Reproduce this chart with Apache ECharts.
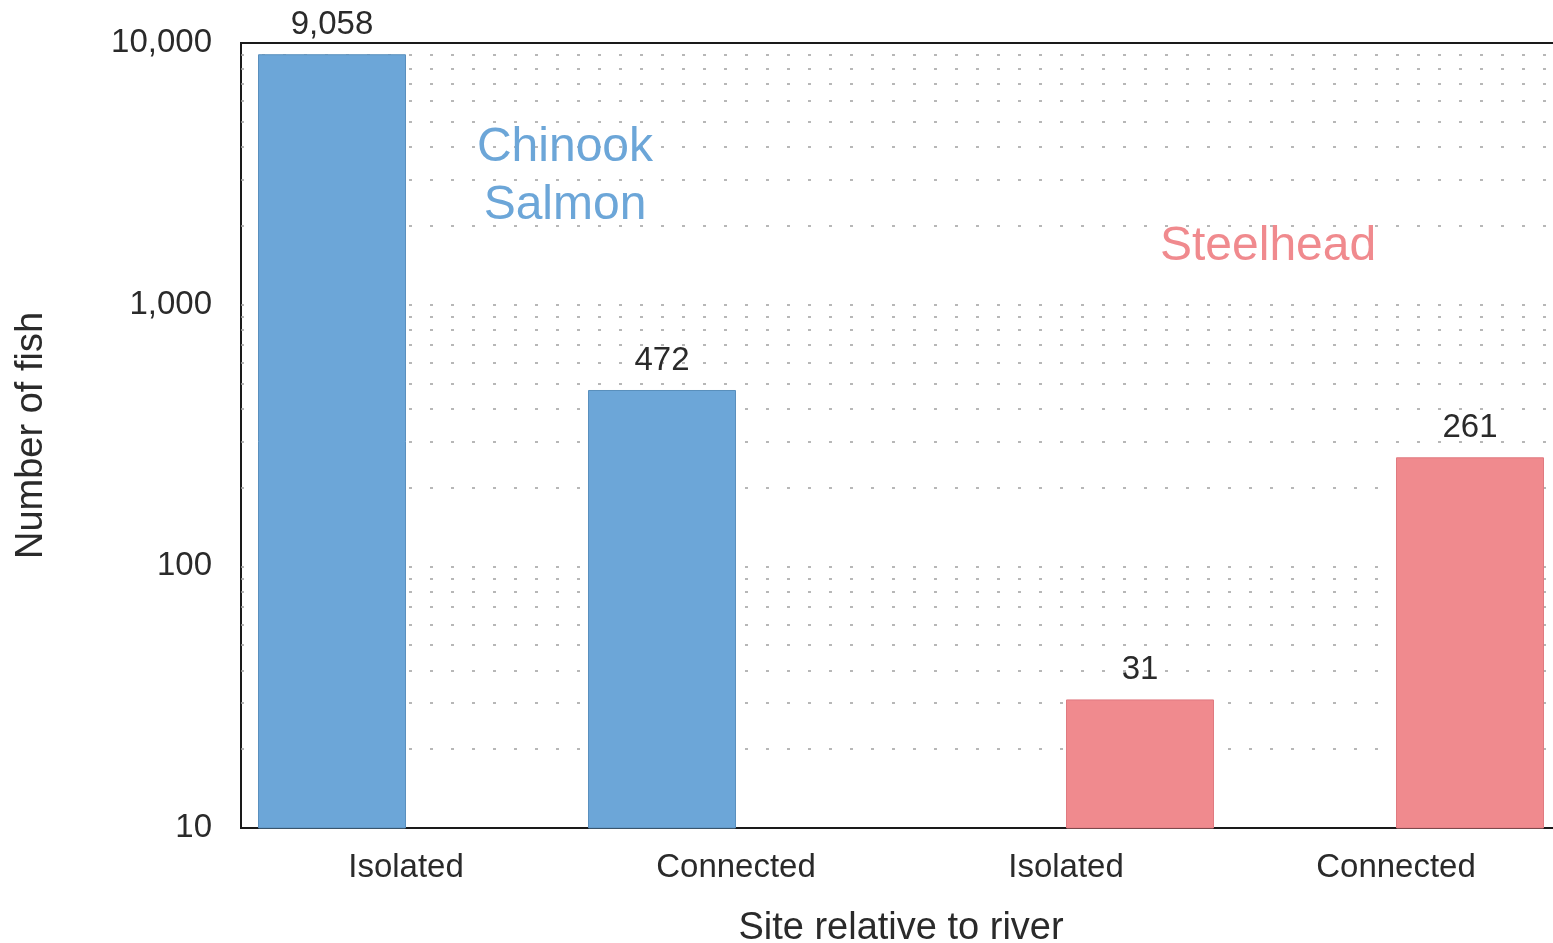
<!DOCTYPE html>
<html>
<head>
<meta charset="utf-8">
<title>Number of fish</title>
<script src="https://cdn.jsdelivr.net/npm/echarts@6/dist/echarts.min.js"></script>
<style>
  html, body {margin: 0; padding: 0; background: #fff;}
  #chart {width: 1553px; height: 943px;}
</style>
</head>
<body>
<div id="chart"></div>
<script>
// data
var sites = ['Isolated', 'Connected', 'Isolated', 'Connected'];
var chinook = [9058, 472, '-', '-'];
var steelhead = ['-', '-', 31, 261];
var yTicks = [10, 100, 1000, 10000];
// dotted guide lines (log minor steps)
var guideLines = [20, 30, 40, 50, 60, 70, 80, 90, 100,
  200, 300, 400, 500, 600, 700, 800, 900, 1000,
  2000, 3000, 4000, 5000, 6000, 7000, 8000, 9000];

var chart = echarts.init(document.getElementById('chart'));

var font = '"Liberation Sans", Arial, sans-serif';
var blue = '#6ca6d8', red = '#f08a8e';

var option = {
  animation: false,
  textStyle: {fontFamily: font},
  grid: {
    left: 241, top: 43, bottom: 115, width: 1320,
    outerBoundsMode: 'none',
    containLabel: false,
    show: true, borderColor: '#1a1a1a', borderWidth: 2
  },
  xAxis: {
    type: 'category',
    data: sites,
    axisLine: {lineStyle: {color: '#1a1a1a', width: 2}},
    axisTick: {show: false},
    axisLabel: {color: '#2a2a2a', fontSize: 33, margin: 23},
    name: 'Site relative to river',
    nameLocation: 'middle',
    nameGap: 82,
    nameTextStyle: {color: '#2a2a2a', fontSize: 38}
  },
  yAxis: {
    type: 'log',
    logBase: 10,
    min: 10,
    max: 10000,
    axisLine: {show: true, lineStyle: {color: '#1a1a1a', width: 2}},
    axisTick: {show: false},
    splitLine: {show: false},
    axisLabel: {
      color: '#2a2a2a', fontSize: 33, margin: 29,
      formatter: function (v) {
        var r = Math.round(v);
        return yTicks.indexOf(r) >= 0 ? r.toLocaleString('en-US') : '';
      }
    },
    name: 'Number of fish',
    nameLocation: 'middle',
    nameGap: 190,
    nameTextStyle: {color: '#2a2a2a', fontSize: 38}
  },
  graphic: [
    {type: 'text', left: 565 - 90, top: 119, z: 10,
      style: {text: 'Chinook\nSalmon', fill: blue, font: '48px ' + font, textAlign: 'center', lineHeight: 58, width: 180}},
    {type: 'text', left: 1160, top: 223, z: 10,
      style: {text: 'Steelhead', fill: red, font: '48px ' + font}}
  ],
  series: [
    {
      name: 'guides',
      type: 'line',
      data: [],
      silent: true,
      z: 1,
      markLine: {
        silent: true,
        symbol: 'none',
        z: 1,
        label: {show: false},
        lineStyle: {color: '#a0a0a0', width: 1.5, type: [3, 18]},
        data: guideLines.map(function (v) { return {yAxis: v}; })
      }
    },
    {
      name: 'Chinook Salmon',
      type: 'bar',
      z: 3,
      data: chinook,
      barWidth: 148,
      barGap: '0%',
      itemStyle: {color: blue, borderColor: '#5a8fbd', borderWidth: 1},
      label: {show: true, position: 'top', distance: 13, color: '#2a2a2a', fontSize: 33,
        formatter: function (p) { return p.value.toLocaleString('en-US'); }}
    },
    {
      name: 'Steelhead',
      type: 'bar',
      z: 3,
      data: steelhead,
      barWidth: 148,
      barGap: '0%',
      itemStyle: {color: red, borderColor: '#e07a80', borderWidth: 1},
      label: {show: true, position: 'top', distance: 13, color: '#2a2a2a', fontSize: 33,
        formatter: function (p) { return p.value.toLocaleString('en-US'); }}
    }
  ]
};

chart.setOption(option);
window.onresize = chart.resize;
</script>
</body>
</html>
